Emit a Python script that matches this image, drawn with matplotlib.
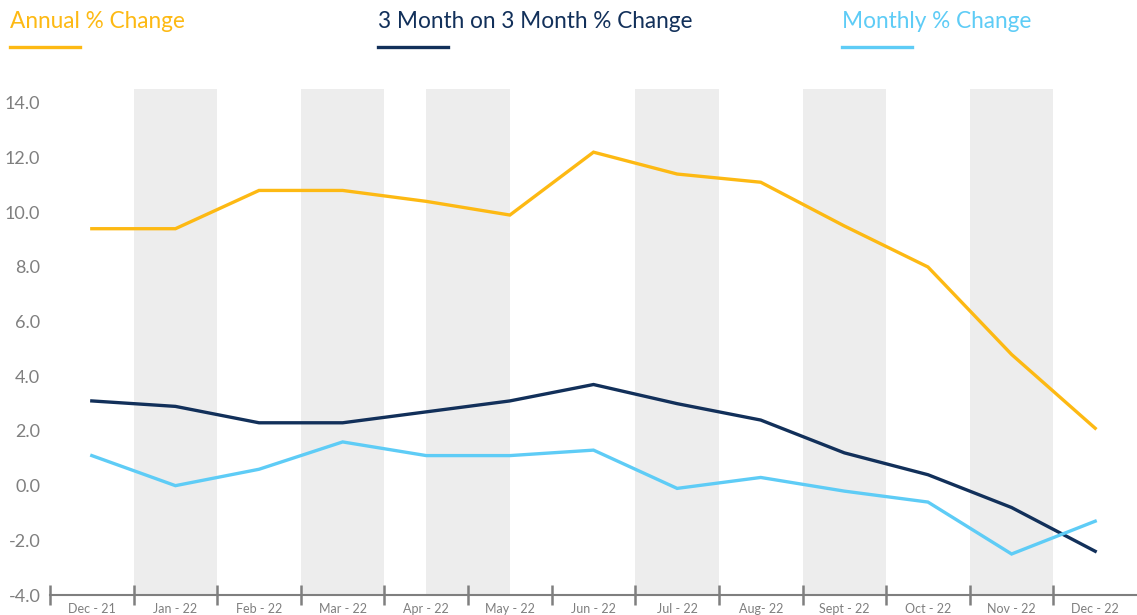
import matplotlib
matplotlib.use("Agg")
import matplotlib.pyplot as plt
from matplotlib.lines import Line2D
import numpy as np

months = ["Dec - 21", "Jan - 22", "Feb - 22", "Mar - 22", "Apr - 22", "May - 22",
          "Jun - 22", "Jul - 22", "Aug- 22", "Sept - 22", "Oct - 22", "Nov - 22", "Dec - 22"]
annual = [9.4, 9.4, 10.8, 10.8, 10.4, 9.9, 12.2, 11.4, 11.1, 9.5, 8.0, 4.8, 2.1]
three_month = [3.1, 2.9, 2.3, 2.3, 2.7, 3.1, 3.7, 3.0, 2.4, 1.2, 0.4, -0.8, -2.4]
monthly = [1.1, 0.0, 0.6, 1.6, 1.1, 1.1, 1.3, -0.1, 0.3, -0.2, -0.6, -2.5, -1.3]
series_names = ["Annual % Change", "3 Month on 3 Month % Change", "Monthly % Change"]
band_spans = [(0.5, 1.5), (2.5, 3.5), (4.0, 5.0), (6.5, 7.5), (8.5, 9.5), (10.5, 11.5)]
yticks = [-4, -2, 0, 2, 4, 6, 8, 10, 12, 14]

c_annual = "#FDB913"
c_three = "#12305A"
c_month = "#5ECCF6"
grey = "#7F7F7F"

plt.rcParams['font.family'] = ['Lato', 'DejaVu Sans']

fig = plt.figure(figsize=(11.37, 6.15), dpi=100)
ax = fig.add_axes([50 / 1137, 1 - 595 / 615, 1 - 50 / 1137, (595 - 89.3) / 615])

x = np.arange(len(months))
for a, b in band_spans:
    ax.axvspan(a, b, color="#EDEDED", lw=0, zorder=0)

lw = 2.4
ax.plot(x, annual, color=c_annual, lw=lw, zorder=3, solid_joinstyle="miter")
ax.plot(x, three_month, color=c_three, lw=lw, zorder=3, solid_joinstyle="miter")
ax.plot(x, monthly, color=c_month, lw=lw, zorder=3, solid_joinstyle="miter")

ax.set_xlim(-0.5, len(months) - 0.5)
ax.set_ylim(-4, 14.5)

for s in ["top", "right", "left"]:
    ax.spines[s].set_visible(False)
ax.spines["bottom"].set_color(grey)
ax.spines["bottom"].set_linewidth(1.5)

ax.set_yticks(yticks)
ax.set_yticklabels([f"{v:.1f}" for v in yticks])
ax.tick_params(axis="y", length=0, pad=7, labelsize=13, labelcolor=grey)

ax.set_xticks(x)
ax.set_xticklabels(months)
ax.tick_params(axis="x", which="major", length=0, pad=6, labelsize=9, labelcolor=grey)
ax.set_xticks(np.arange(-0.5, len(months) - 0.5, 1.0), minor=True)
ax.tick_params(axis="x", which="minor", length=14, width=1.8, direction="inout", color=grey)

# legend-style header
entries = [(10, c_annual), (378, c_three), (842, c_month)]
for (px, col), name in zip(entries, series_names):
    fig.text(px / 1137, 1 - 21 / 615, name, color=col, fontsize=16.3, va="center", ha="left")
    fig.add_artist(Line2D([px / 1137, (px + 70) / 1137], [1 - 47 / 615, 1 - 47 / 615],
                          color=col, lw=2.4, transform=fig.transFigure))

fig.savefig("out.png", dpi=100)
